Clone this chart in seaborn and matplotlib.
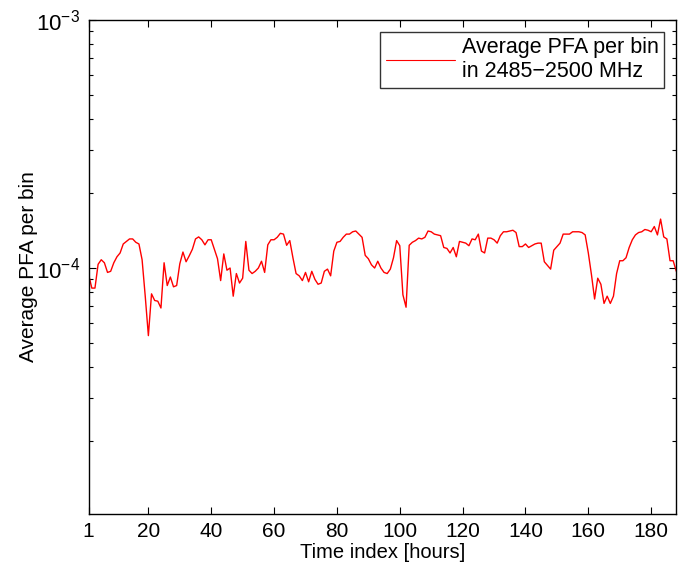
import numpy as np
import pandas as pd
import matplotlib
matplotlib.use("Agg")
import matplotlib.pyplot as plt
import seaborn as sns

sns.set_style("ticks")
plt.rcParams['font.family'] = ['Liberation Sans', 'DejaVu Sans']
plt.rcParams['mathtext.fontset'] = 'custom'
plt.rcParams['mathtext.rm'] = 'Liberation Sans'
plt.rcParams['mathtext.it'] = 'Liberation Sans'
for k in ['text.color', 'axes.labelcolor', 'xtick.color', 'ytick.color']:
    plt.rcParams[k] = 'black'

# average PFA per bin, one value per hour (units of 1e-4)
pfa_e4 = [
    0.94, 0.83, 0.83, 1.035, 1.08, 1.05, 0.96, 0.97, 1.05, 1.11,
    1.15, 1.25, 1.28, 1.31, 1.31, 1.27, 1.25, 1.08, 0.77, 0.534,
    0.787, 0.74, 0.735, 0.69, 1.05, 0.85, 0.92, 0.84, 0.85, 1.04,
    1.16, 1.06, 1.12, 1.19, 1.31, 1.335, 1.30, 1.24, 1.30, 1.30,
    1.19, 1.09, 0.89, 1.14, 0.98, 1.00, 0.77, 0.95, 0.87, 0.91,
    1.28, 0.98, 0.95, 0.97, 1.00, 1.065, 0.96, 1.24, 1.30, 1.30,
    1.33, 1.38, 1.37, 1.235, 1.29, 1.10, 0.95, 0.93, 0.89, 0.96,
    0.88, 0.97, 0.90, 0.86, 0.87, 0.97, 0.99, 0.93, 1.17, 1.27,
    1.28, 1.33, 1.37, 1.37, 1.40, 1.41, 1.37, 1.33, 1.125, 1.09,
    1.03, 1.00, 1.065, 1.00, 0.96, 0.95, 0.99, 1.10, 1.29, 1.23,
    0.78, 0.695, 1.235, 1.27, 1.29, 1.32, 1.31, 1.33, 1.41, 1.40,
    1.37, 1.36, 1.35, 1.21, 1.20, 1.15, 1.21, 1.11, 1.28, 1.27,
    1.26, 1.23, 1.31, 1.30, 1.37, 1.17, 1.15, 1.32, 1.32, 1.30,
    1.26, 1.35, 1.40, 1.40, 1.41, 1.42, 1.39, 1.22, 1.22, 1.25,
    1.21, 1.23, 1.25, 1.26, 1.26, 1.06, 1.025, 0.99, 1.18, 1.22,
    1.26, 1.37, 1.37, 1.37, 1.40, 1.40, 1.40, 1.39, 1.36, 1.15,
    0.94, 0.75, 0.91, 0.86, 0.72, 0.77, 0.72, 0.77, 0.95, 1.07,
    1.07, 1.10, 1.21, 1.30, 1.36, 1.39, 1.40, 1.43, 1.42, 1.40,
    1.47, 1.36, 1.575, 1.335, 1.31, 1.07, 1.07, 0.97,
]
hours = np.arange(1, len(pfa_e4) + 1)
df = pd.DataFrame({"hour": hours, "pfa": np.array(pfa_e4) * 1e-4})

xticks = [1, 20, 40, 60, 80, 100, 120, 140, 160, 180]

fig = plt.figure(figsize=(6.96, 5.70), dpi=100)
ax = fig.add_axes([0.1274, 0.0983, 0.8443, 0.8667])

sns.lineplot(data=df, x="hour", y="pfa", color="red", linewidth=1.0,
             label="Average PFA per bin\nin 2485\u22122500 MHz", ax=ax)

ax.set_yscale("log")
ax.set_ylim(1.02e-5, 1e-3)
ax.set_xlim(1, len(pfa_e4))
ax.set_xticks(xticks)
ax.set_xticklabels([str(t) for t in xticks])
ax.set_xlabel("Time index [hours]", fontsize=14.5, labelpad=1)
ax.set_ylabel("Average PFA per bin", fontsize=15, labelpad=-1)

ax.tick_params(which="both", direction="in", top=True, right=True,
               width=0.8, color="black")
ax.tick_params(axis="x", which="major", labelsize=15)
ax.tick_params(axis="y", which="major", labelsize=16)
ax.tick_params(which="major", length=5, pad=6)
ax.tick_params(which="minor", length=3)
ax.tick_params(axis="x", which="minor", bottom=False, top=False)
for s in ax.spines.values():
    s.set_linewidth(1.0)
    s.set_color("black")

leg = ax.legend(loc="upper right", fontsize=15.5, handlelength=3.2,
                frameon=True, fancybox=False, borderpad=0.25,
                handletextpad=0.35, borderaxespad=0.55, labelspacing=0.2)
leg.get_frame().set_edgecolor("black")
leg.get_frame().set_linewidth(1.0)
for line in leg.get_lines():
    line.set_linewidth(0.8)

fig.savefig("out.png", dpi=100)
